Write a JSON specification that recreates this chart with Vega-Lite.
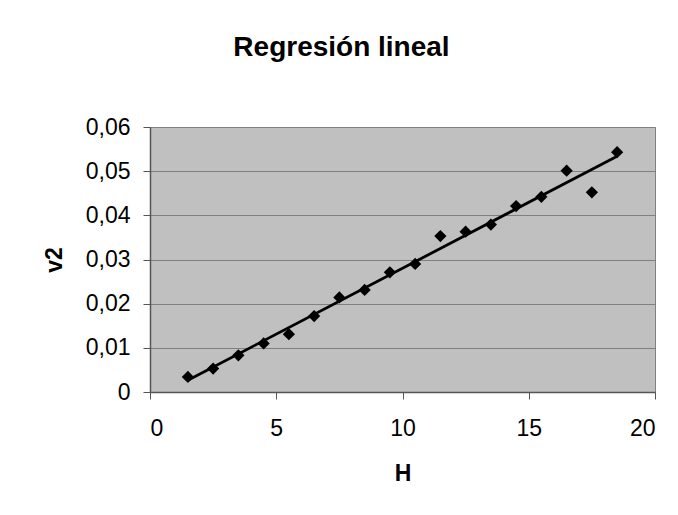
{
  "$schema": "https://vega.github.io/schema/vega-lite/v6.json",
  "autosize": "none",
  "width": 505,
  "height": 265,
  "padding": {"left": 150, "top": 127, "right": 23, "bottom": 123},
  "background": "white",
  "title": {
    "text": "Regresión lineal",
    "font": "Liberation Sans",
    "fontSize": 28,
    "fontWeight": "bold",
    "color": "black",
    "anchor": "middle",
    "frame": "group",
    "baseline": "alphabetic",
    "dx": -61,
    "offset": 32
  },
  "data": {
    "values": [
      {"H": 1.5, "v2": 0.0034},
      {"H": 2.5, "v2": 0.0053},
      {"H": 3.5, "v2": 0.0083},
      {"H": 4.5, "v2": 0.011},
      {"H": 5.5, "v2": 0.0131},
      {"H": 6.5, "v2": 0.0172},
      {"H": 7.5, "v2": 0.0214},
      {"H": 8.5, "v2": 0.0231},
      {"H": 9.5, "v2": 0.0271},
      {"H": 10.5, "v2": 0.029},
      {"H": 11.5, "v2": 0.0353},
      {"H": 12.5, "v2": 0.0363},
      {"H": 13.5, "v2": 0.0379},
      {"H": 14.5, "v2": 0.0421},
      {"H": 15.5, "v2": 0.0442},
      {"H": 16.5, "v2": 0.0501},
      {"H": 17.5, "v2": 0.0452},
      {"H": 18.5, "v2": 0.0543}
    ]
  },
  "encoding": {
    "x": {
      "field": "H",
      "type": "quantitative",
      "scale": {"domain": [0, 20], "nice": false, "zero": false},
      "axis": {
        "title": "H",
        "values": [0, 5, 10, 15, 20],
        "grid": false,
        "tickSize": 7,
        "labelPadding": 18,
        "titlePadding": 22
      }
    },
    "y": {
      "field": "v2",
      "type": "quantitative",
      "scale": {"domain": [0, 0.06], "nice": false},
      "axis": {
        "title": "v2",
        "values": [0, 0.01, 0.02, 0.03, 0.04, 0.05, 0.06],
        "labelExpr": "datum.value == 0 ? '0' : replace(format(datum.value, '.2f'), '.', ',')",
        "grid": true,
        "tickSize": 7,
        "labelPadding": 13,
        "titlePadding": 19
      }
    }
  },
  "layer": [
    {
      "mark": {"type": "point", "shape": "diamond", "filled": true, "color": "black", "size": 150, "opacity": 1}
    },
    {
      "transform": [{"regression": "v2", "on": "H"}],
      "mark": {"type": "line", "color": "black", "strokeWidth": 2.8}
    }
  ],
  "config": {
    "view": {"fill": "#C0C0C0", "stroke": "#808080", "strokeWidth": 1},
    "axis": {
      "labelFont": "Liberation Sans",
      "labelFontSize": 23,
      "labelColor": "black",
      "titleFont": "Liberation Sans",
      "titleFontSize": 23,
      "titleFontWeight": "bold",
      "titleColor": "black",
      "domainColor": "#555555",
      "domainWidth": 1.5,
      "tickColor": "#555555",
      "tickWidth": 1,
      "gridColor": "#808080",
      "gridWidth": 1.2,
      "gridOpacity": 1
    }
  }
}
